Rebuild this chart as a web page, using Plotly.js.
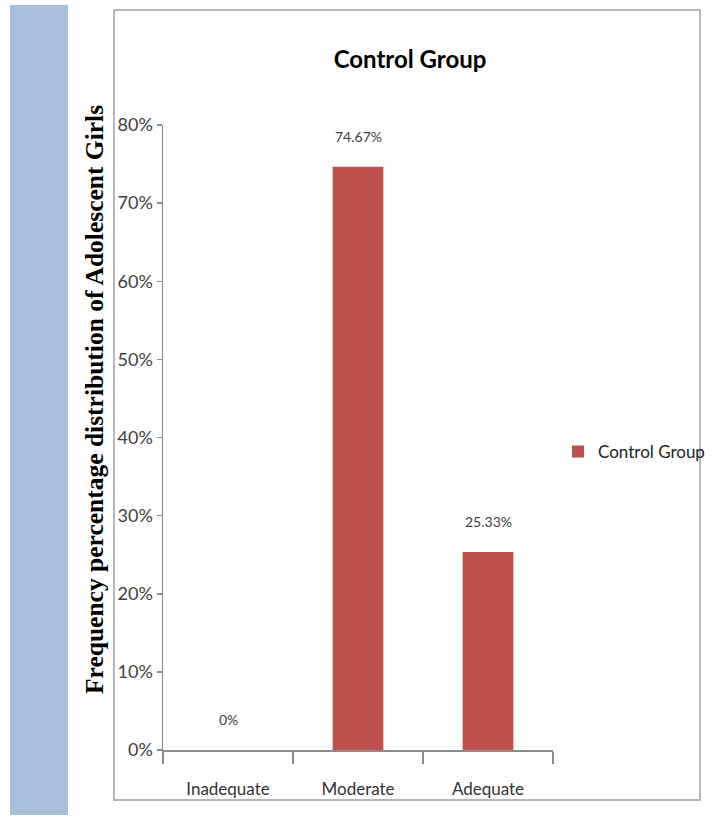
<!DOCTYPE html>
<html>
<head>
<meta charset="utf-8">
<script src="https://cdn.plot.ly/plotly-3.0.1.min.js"></script>
<style>html,body{margin:0;padding:0;background:#fff;}#chart{width:712px;height:828px;}</style>
</head>
<body>
<div id="chart"></div>
<script>
const categories = ['Inadequate', 'Moderate', 'Adequate'];
const values = [0, 0.7467, 0.2533];
const valueLabels = ['0%', '74.67%', '25.33%'];
const seriesName = 'Control Group';
const yTickVals = [0, 0.1, 0.2, 0.3, 0.4, 0.5, 0.6, 0.7, 0.8];
const yTickText = ['0%', '10%', '20%', '30%', '40%', '50%', '60%', '70%', '80%'];

const narrow = 'Lato, "Liberation Sans Narrow", "DejaVu Sans Condensed", Arial, sans-serif';

const W = 712, H = 828;
const L = 163, R = 553, T = 125, B = 750;
const px = x => (x - L) / (R - L);
const py = y => (B - y) / (B - T);

const trace = {
  type: 'bar',
  x: categories,
  y: values,
  name: seriesName,
  marker: {color: '#c0504d'},
  width: 0.39,
  showlegend: true,
  hoverinfo: 'x+y'
};

const annotations = categories.map((c, i) => ({
  x: c, y: values[i], xref: 'x', yref: 'y',
  text: valueLabels[i], showarrow: false,
  yanchor: 'bottom', yshift: 20,
  font: {family: narrow, size: 14, color: '#404040'}
}));

annotations.push({
  xref: 'paper', yref: 'paper',
  x: px(95), y: py(400),
  text: '<b>Frequency percentage distribution of Adolescent Girls</b>',
  textangle: -90, showarrow: false,
  xanchor: 'center', yanchor: 'middle',
  font: {family: '"Liberation Serif", "Times New Roman", serif', size: 25.5, color: '#000'}
});

const layout = {
  width: W, height: H,
  margin: {l: L, r: W - R, t: T, b: H - B, pad: 0},
  paper_bgcolor: '#ffffff',
  plot_bgcolor: 'rgba(0,0,0,0)',
  title: {
    text: 'Control Group',
    x: 410 / W, xref: 'container', xanchor: 'center',
    y: 1 - 60 / H, yref: 'container', yanchor: 'middle',
    font: {family: narrow, size: 24, color: '#000', weight: 'bold'}
  },
  xaxis: {
    type: 'category',
    showline: true, linecolor: '#8c8c8c', linewidth: 1.5,
    ticks: 'outside', tickson: 'boundaries', ticklen: 12, tickcolor: '#8c8c8c', tickwidth: 1.5,
    tickfont: {family: narrow, size: 17, color: '#333'},
    ticklabelstandoff: 23,
    showgrid: false, zeroline: false
  },
  yaxis: {
    range: [0, 0.8],
    tickvals: yTickVals, ticktext: yTickText,
    showline: true, linecolor: '#8c8c8c', linewidth: 1.5,
    ticks: 'outside', ticklen: 5, tickcolor: '#8c8c8c', tickwidth: 1.5,
    tickfont: {family: narrow, size: 18, color: '#404040'},
    showgrid: false, zeroline: false
  },
  showlegend: true,
  legend: {
    xref: 'container', yref: 'container',
    x: 558 / W, y: 1 - 452 / H, xanchor: 'left', yanchor: 'middle',
    font: {family: narrow, size: 17, color: '#222'},
    bgcolor: 'rgba(0,0,0,0)'
  },
  shapes: [
    {type: 'rect', xref: 'paper', yref: 'paper', layer: 'below',
     x0: px(10), x1: px(68), y0: py(815), y1: py(5),
     fillcolor: '#a7bfdd', line: {width: 0}},
    {type: 'rect', xref: 'paper', yref: 'paper', layer: 'below',
     x0: px(114), x1: px(700), y0: py(800), y1: py(10),
     fillcolor: '#ffffff', line: {color: '#a0a0a0', width: 1.5}}
  ],
  annotations: annotations
};

Plotly.newPlot('chart', [trace], layout, {displayModeBar: false, staticPlot: true});
</script>
</body>
</html>
